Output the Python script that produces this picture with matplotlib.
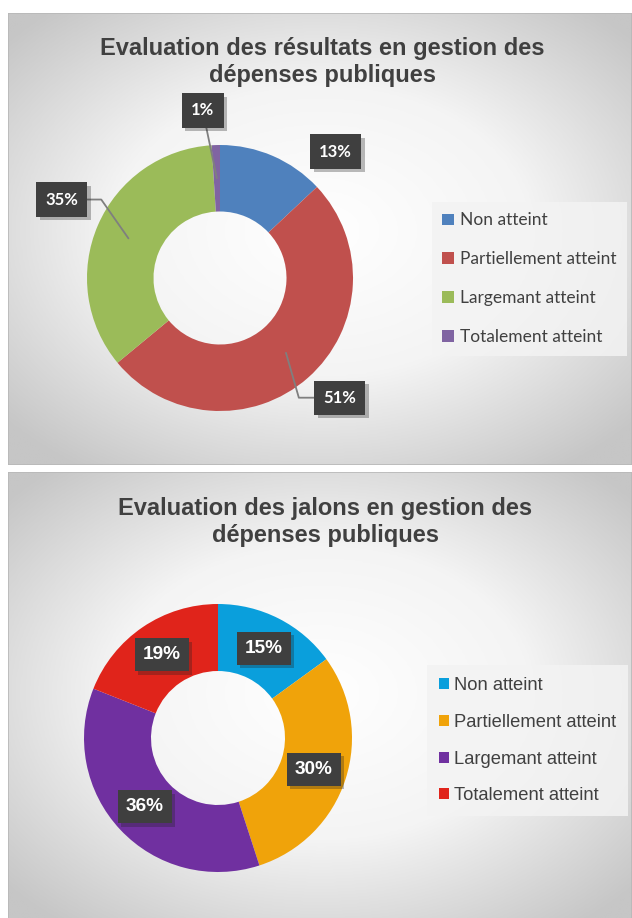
import numpy as np
import matplotlib
matplotlib.use("Agg")
import matplotlib.pyplot as plt
import matplotlib.patheffects as pe
from matplotlib.colors import LinearSegmentedColormap
from matplotlib.patches import Rectangle

# data
categories = ["Non atteint", "Partiellement atteint", "Largemant atteint", "Totalement atteint"]
resultats = [13, 51, 35, 1]
jalons = [15, 30, 36, 19]
titre_resultats = "Evaluation des résultats en gestion des\ndépenses publiques"
titre_jalons = "Evaluation des jalons en gestion des\ndépenses publiques"
colors_resultats = ["#4F81BD", "#C0504D", "#9BBB59", "#8064A2"]
colors_jalons = ["#0A9FDC", "#F0A30A", "#7030A0", "#E0241B"]

W, H = 632, 918
fig = plt.figure(figsize=(W / 100, H / 100), dpi=100)
fig.patch.set_facecolor("white")


def px_axes(x0, y0, x1, y1, **kw):
    # pixel box (top-left origin) -> figure axes
    return fig.add_axes([x0 / W, 1 - y1 / H, (x1 - x0) / W, (y1 - y0) / H], **kw)


grad_cmap = LinearSegmentedColormap.from_list("bg", ["#ffffff", "#f4f4f4", "#c6c6c6"])


def panel(y0, y1):
    ax = px_axes(8, y0, 632, y1)
    h, w = 200, 280
    yy, xx = np.mgrid[0:h, 0:w]
    cx, cy = w * 0.5, h * 0.48
    d = np.sqrt(((xx - cx) / cx) ** 2 + ((yy - cy) / cy) ** 2) / np.sqrt(2)
    ax.imshow(d, cmap=grad_cmap, vmin=0, vmax=0.95, extent=[0, 1, 0, 1], aspect="auto",
              interpolation="bilinear")
    ax.add_patch(Rectangle((0, 0), 1, 1, transform=ax.transAxes, fill=False,
                           ec="#b8b8b8", lw=1.2))
    ax.set_axis_off()
    return ax


def box_style(txt):
    txt.get_bbox_patch().set_path_effects(
        [pe.SimplePatchShadow(offset=(2.5, -2.5), alpha=0.3, shadow_rgbFace="#202020"),
         pe.Normal()])


def donut(cx, cy, r, values, colors):
    ax = px_axes(cx - r, cy - r, cx + r, cy + r)
    ax.set_facecolor("none")
    wedges, _ = ax.pie(values, colors=colors, startangle=90, counterclock=False,
                       radius=1, wedgeprops=dict(width=0.5, edgecolor="none"))
    ax.set_xlim(-1, 1)
    ax.set_ylim(-1, 1)
    ax.set_aspect("equal")
    ax.set_axis_off()
    return ax, wedges


def mid_point(w, rr=0.75):
    a = np.deg2rad((w.theta1 + w.theta2) / 2)
    return rr * np.cos(a), rr * np.sin(a)


# ---------- top chart ----------
panel(13, 465)
fig.text(322 / W, 1 - 62 / H, titre_resultats, ha="center", va="center", fontsize=17,
         fontweight="bold", color="#404040", family="Liberation Sans", linespacing=1.22)

ax1, w1 = donut(220, 278, 133, resultats, colors_resultats)
# label box centres (axes data units) and leader line connection
top_pos = [(0.87, 0.95), (0.90, -0.90), (-1.19, 0.59), (-0.13, 1.26)]
top_conn = [None, "angle,angleA=0,angleB=-74", "angle,angleA=0,angleB=125", "arc3"]
for w, v, pos, conn in zip(w1, resultats, top_pos, top_conn):
    xy = mid_point(w)
    arrow = None
    if conn:
        arrow = dict(arrowstyle="-", color="#7f7f7f", lw=1.3, connectionstyle=conn,
                     shrinkA=0, shrinkB=0)
    t = ax1.annotate(f"{v}%", xy=xy, xytext=pos, ha="center", va="center",
                     fontsize=12, fontweight="bold", color="white", family="Lato",
                     bbox=dict(boxstyle="square,pad=0.55", fc="#3f3f3f", lw=0),
                     arrowprops=arrow, annotation_clip=False)
    box_style(t)

leg1 = fig.legend(w1, categories, loc="upper left",
                  bbox_to_anchor=(432 / W, 1 - 202 / H), frameon=True, fancybox=False,
                  prop=dict(family="Lato", size=12.5), labelcolor="#404040",
                  handlelength=0.65, handleheight=0.65, handletextpad=0.35,
                  labelspacing=1.32, borderpad=0.6, borderaxespad=0)
leg1.get_frame().set_facecolor("#f3f3f3")
leg1.get_frame().set_alpha(0.85)
leg1.get_frame().set_linewidth(0)

# ---------- bottom chart ----------
panel(472, 930)
fig.text(325 / W, 1 - 522 / H, titre_jalons, ha="center", va="center", fontsize=17,
         fontweight="bold", color="#404040", family="Liberation Sans", linespacing=1.22)

ax2, w2 = donut(218, 738, 134, jalons, colors_jalons)
for w, v in zip(w2, jalons):
    t = ax2.annotate(f"{v}%", xy=mid_point(w), ha="center", va="center",
                     fontsize=13.7, fontweight="bold", color="white", family="Liberation Sans",
                     bbox=dict(boxstyle="square,pad=0.42", fc="#3f3f3f", lw=0))
    box_style(t)

leg2 = fig.legend(w2, categories, loc="upper left",
                  bbox_to_anchor=(427 / W, 1 - 665 / H), frameon=True, fancybox=False,
                  prop=dict(family="Liberation Sans", size=13.2), labelcolor="#404040",
                  handlelength=0.55, handleheight=0.55, handletextpad=0.25,
                  labelspacing=1.08, borderpad=0.65, borderaxespad=0)
leg2.get_frame().set_facecolor("#f3f3f3")
leg2.get_frame().set_alpha(0.85)
leg2.get_frame().set_linewidth(0)

fig.savefig("out.png", dpi=100)
